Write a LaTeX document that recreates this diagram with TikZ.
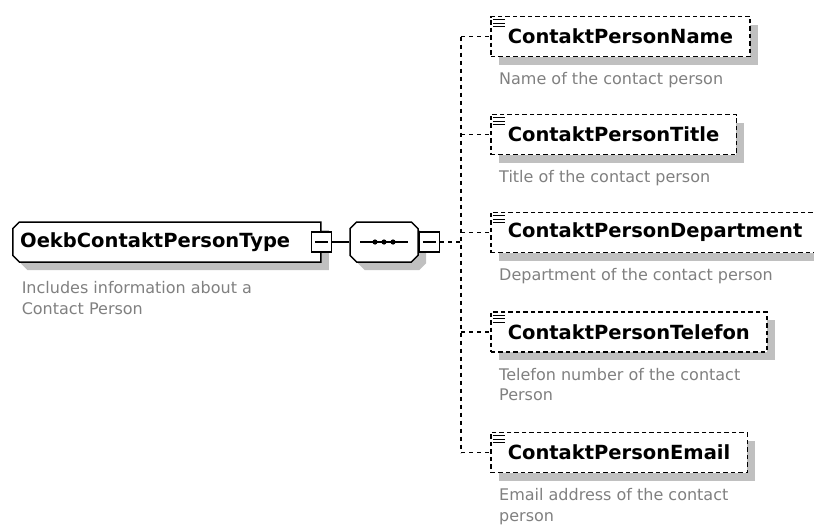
\documentclass[tikz,border=0pt]{standalone}
\usepackage{fontspec}
\setmainfont{DejaVu Sans}
\usetikzlibrary{positioning,shapes.misc,shadows}
\definecolor{shadowgray}{HTML}{C0C0C0}
\definecolor{docgray}{HTML}{808080}
\tikzset{
  boxshadow/.style={drop shadow={shadow xshift=8pt, shadow yshift=-8pt, fill=shadowgray, opacity=1}},
  namefont/.style={font=\fontsize{19.5}{22}\selectfont\bfseries},
  elembox/.style={draw, dash pattern=on 4.5pt off 3pt, line width=1.6pt, fill=white, boxshadow,
    minimum height=40pt, inner xsep=17pt, anchor=west, namefont},
  typebox/.style={chamfered rectangle, chamfered rectangle corners={north west,south west},
    chamfered rectangle xsep=8pt, chamfered rectangle ysep=8pt, draw, line width=1.5pt, fill=white, boxshadow,
    minimum width=308pt, minimum height=40pt},
  seqbox/.style={chamfered rectangle, chamfered rectangle xsep=10pt, chamfered rectangle ysep=11pt,
    draw, line width=1.5pt, fill=white, boxshadow, minimum width=68pt, minimum height=40pt},
  minusbox/.style={draw, line width=1.5pt, fill=white, minimum size=20pt, inner sep=0pt},
  docnote/.style={text=docgray, font=\fontsize{16}{20.5}\selectfont, align=left, anchor=north west, inner sep=0pt},
  connector/.style={line width=1.3pt, dash pattern=on 4pt off 4pt},
}
\begin{document}
\begin{tikzpicture}[x=1pt,y=-1pt]
  \useasboundingbox (0,0) rectangle (814,525);
  \node[typebox, anchor=west] (root) at (12,242) {};
  \node[namefont, anchor=west, inner sep=0pt] (rootname) at ([xshift=8pt]root.west) {OekbContaktPersonType};
  \node[minusbox] (rootminus) at (root.east) {};
  \draw[line width=1.2pt] ([xshift=4pt]rootminus.west) -- ([xshift=-4pt]rootminus.east);
  \node[docnote] (rootdoc) at ([xshift=6pt,yshift=-22pt]root.south west) {Includes information about a\\Contact Person};
  \node[seqbox] (seq) at (384,242) {};
  \draw[line width=1.2pt] ([xshift=-24pt]seq.center) -- ([xshift=24pt]seq.center);
  \foreach \d in {-9,0,9}
    \fill ([xshift=\d pt]seq.center) circle (2.6pt);
  \node[minusbox, anchor=west] (seqminus) at (seq.east) {};
  \draw[line width=1.2pt] ([xshift=4pt]seqminus.west) -- ([xshift=-4pt]seqminus.east);
  \draw[line width=1.2pt] (rootminus.east) -- (seq.west);
  \coordinate (trunk) at (461,242);
  \draw[connector] (seqminus.east) -- (trunk);
  \foreach \nm/\cy/\txt in {Name/36.5/{Name of the contact person},
      Title/134.5/{Title of the contact person},
      Department/232.5/{Department of the contact person},
      Telefon/332/{Telefon number of the contact\\Person},
      Email/452.5/{Email address of the contact\\person}} {
    \node[elembox] (c\nm) at (490,\cy) {ContaktPerson\nm};
    \foreach \k in {0,1,2}
      \draw[line width=1.1pt] ([shift={(3pt,-4pt-3.6*\k pt)}]c\nm.north west) -- ++(12,0);
    \node[docnote] (d\nm) at ([xshift=9pt,yshift=-15pt]c\nm.south west) {\txt};
    \draw[connector] (c\nm.west -| trunk) -- (c\nm.west);
  }
  \draw[connector] (cName.west -| trunk) -- (cEmail.west -| trunk);
\end{tikzpicture}
\end{document}
